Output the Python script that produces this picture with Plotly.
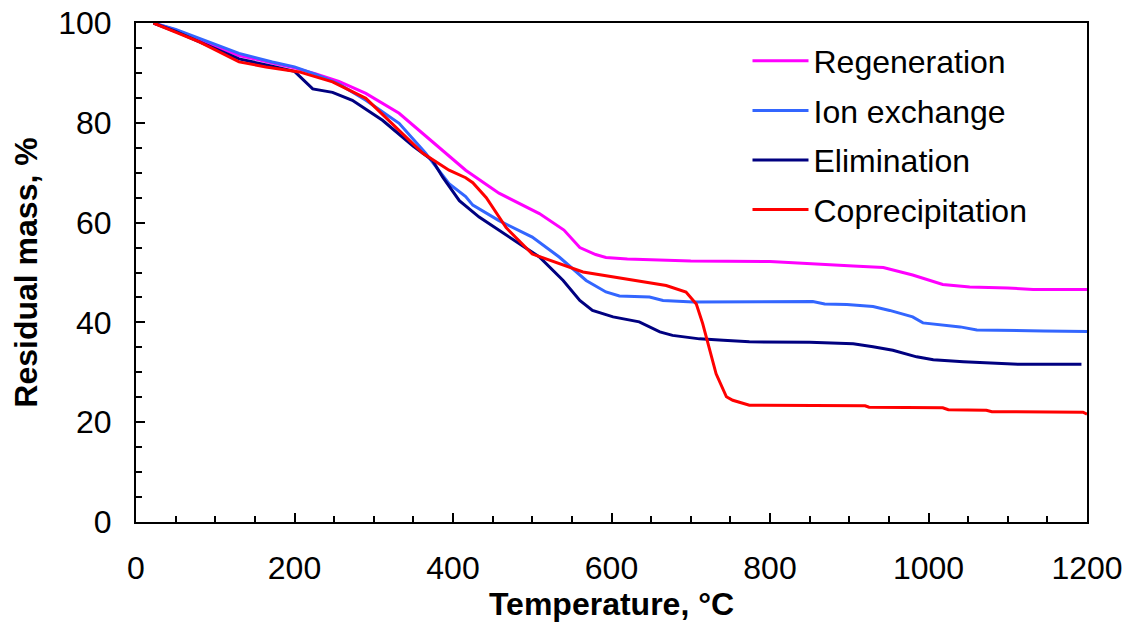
import plotly.graph_objects as go

# Regeneration
regen_T = [22, 50, 80, 130, 172, 200, 227, 256, 290, 332, 374, 416, 458, 509, 540, 560, 580, 593, 620, 665, 700, 800, 841, 870, 905, 943, 980, 1018, 1052, 1100, 1132, 1200]
regen_m = [100, 98.6, 96.6, 93.5, 92.0, 91.0, 89.8, 88.3, 85.9, 81.9, 76.2, 70.5, 65.9, 61.8, 58.5, 55.0, 53.6, 53.0, 52.7, 52.4, 52.3, 52.2, 51.8, 51.6, 51.3, 51.0, 49.5, 47.6, 47.1, 46.9, 46.6, 46.6]

# Ion exchange
ion_T = [22, 50, 80, 130, 172, 200, 227, 256, 290, 332, 365, 395, 416, 425, 458, 500, 534, 568, 593, 610, 648, 665, 703, 800, 854, 869, 897, 930, 951, 980, 993, 1040, 1061, 1145, 1200]
ion_m = [100, 98.7, 96.9, 93.9, 92.2, 91.2, 89.7, 87.8, 84.5, 79.9, 74.0, 67.8, 65.2, 63.5, 60.4, 57.1, 53.1, 48.4, 46.1, 45.3, 45.1, 44.4, 44.1, 44.2, 44.2, 43.7, 43.6, 43.2, 42.4, 41.1, 39.9, 39.1, 38.5, 38.3, 38.2]

# Elimination
elim_T = [22, 50, 80, 130, 176, 200, 223, 248, 273, 311, 350, 374, 387, 408, 433, 471, 509, 539, 560, 576, 602, 635, 661, 677, 711, 741, 774, 850, 905, 930, 955, 985, 1006, 1044, 1115, 1193]
elim_m = [100, 98.3, 96.2, 92.8, 91.2, 90.3, 86.8, 86.1, 84.5, 80.5, 75.3, 72.5, 69.1, 64.4, 61.1, 57.1, 53.1, 48.4, 44.4, 42.4, 41.1, 40.1, 38.1, 37.4, 36.7, 36.4, 36.1, 36.0, 35.7, 35.1, 34.4, 33.1, 32.5, 32.1, 31.6, 31.6]

# Coprecipitation
copr_T = [22, 50, 80, 130, 164, 206, 248, 290, 332, 362, 395, 416, 425, 442, 467, 500, 564, 627, 669, 694, 707, 715, 724, 732, 745, 753, 774, 920, 925, 1018, 1025, 1073, 1080, 1195, 1200]
copr_m = [100, 98.2, 96.2, 92.2, 91.2, 90.2, 88.2, 84.9, 78.6, 73.9, 70.5, 69.0, 68.0, 65.0, 59.0, 53.7, 50.1, 48.4, 47.4, 46.1, 43.7, 39.8, 34.4, 29.7, 25.1, 24.4, 23.4, 23.3, 23.0, 22.9, 22.5, 22.4, 22.1, 22.0, 21.6]

series = [
    ("Regeneration", regen_T, regen_m, "#FF00FF"),
    ("Ion exchange", ion_T, ion_m, "#3366FF"),
    ("Elimination", elim_T, elim_m, "#000080"),
    ("Coprecipitation", copr_T, copr_m, "#FF0000"),
]

FONT = "Arial, Liberation Sans, sans-serif"

fig = go.Figure()
for i, (name, T, m, col) in enumerate(series):
    fig.add_trace(go.Scatter(x=T, y=m, mode="lines", name=name, legendgroup=f"g{i}",
                             line=dict(color=col, width=3)))

axis_common = dict(
    showline=True, linecolor="black", linewidth=2, mirror=True,
    ticks="inside", tickcolor="black", tickwidth=2, ticklen=9,
    showgrid=False, zeroline=False, automargin=False,
    ticklabeloverflow="allow",
    tickfont=dict(family=FONT, size=32, color="black"),
)

fig.update_layout(
    width=1125, height=619,
    margin=dict(l=128, r=46, t=15, b=105),
    paper_bgcolor="white", plot_bgcolor="white",
    font=dict(family=FONT, color="black"),
    xaxis=dict(range=[0, 1200], tick0=0, dtick=200,
               minor=dict(dtick=50, ticks="inside", ticklen=6, tickwidth=1.5, tickcolor="black"),
               title=dict(text="<b>Temperature, °C</b>", font=dict(family=FONT, size=32, color="black"), standoff=3),
               ticklabelstandoff=17,
               **axis_common),
    yaxis=dict(range=[0, 100], tick0=0, dtick=20,
               minor=dict(dtick=5, ticks="inside", ticklen=6, tickwidth=1.5, tickcolor="black"),
               title=dict(text="<b>Residual mass, %</b>", font=dict(family=FONT, size=32, color="black"), standoff=18),
               ticklabelstandoff=16,
               **axis_common),
    legend=dict(x=0.643, y=0.979, xanchor="left", yanchor="top",
                font=dict(family=FONT, size=32, color="black"),
                bgcolor="rgba(0,0,0,0)", tracegroupgap=5, itemwidth=56),
    showlegend=True,
)

fig.write_html("out.html")
